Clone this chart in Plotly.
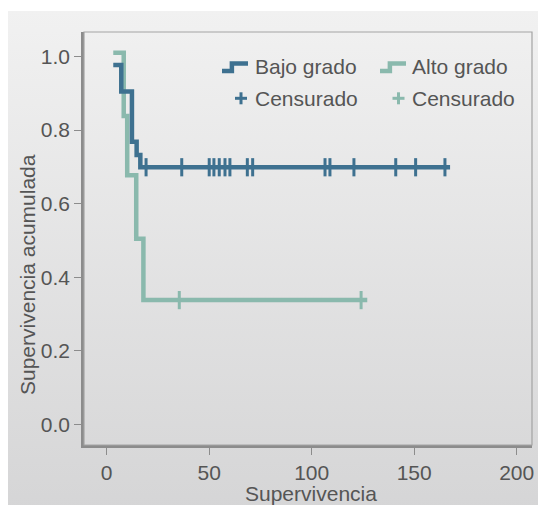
import base64
import plotly.graph_objects as go

# ---- data ----
bajo_t = [3.2, 7.1, 12.3, 14.6, 16.4, 167.5]
bajo_s = [0.977, 0.905, 0.768, 0.732, 0.699, 0.699]
bajo_cens_t = [19.2, 36.6, 50.0, 52.3, 54.9, 57.7, 60.1, 68.6, 71.2,
               106.5, 108.9, 120.6, 141.0, 150.7, 165.0]
bajo_cens_s = [0.699] * len(bajo_cens_t)

alto_t = [3.2, 8.3, 10.0, 14.4, 17.9, 127.1]
alto_s = [1.01, 0.838, 0.677, 0.505, 0.338, 0.338]
alto_cens_t = [35.4, 124.1]
alto_cens_s = [0.338] * len(alto_cens_t)

x_ticks = [0, 50, 100, 150, 200]
y_ticks = [0.0, 0.2, 0.4, 0.6, 0.8, 1.0]
y_tick_text = ["0.0", "0.2", "0.4", "0.6", "0.8", "1.0"]

BLUE = "#3e7190"
GREEN = "#8ab9ad"
TXT = "#555555"
FONT = "Liberation Sans, Arial, sans-serif"
FS = 21

OFF = 8  # page body margin
W, H = 538, 497
L, R, T, B = 76, 14, 24, 60
PW, PH = W - L - R, H - T - B


def px(x):  # screenshot pixel -> paper
    return (x - OFF - L) / PW


def py(y):
    return (H - B - (y - OFF)) / PH


fig = go.Figure()

fig.add_trace(go.Scatter(x=alto_t, y=alto_s, mode="lines", line=dict(color=GREEN, width=4.5, shape="hv"),
                         showlegend=False, hoverinfo="skip"))
fig.add_trace(go.Scatter(x=alto_cens_t, y=alto_cens_s, mode="markers",
                         marker=dict(symbol="line-ns", size=13, line=dict(color=GREEN, width=3)),
                         showlegend=False, hoverinfo="skip"))
fig.add_trace(go.Scatter(x=bajo_t, y=bajo_s, mode="lines", line=dict(color=BLUE, width=4.5, shape="hv"),
                         showlegend=False, hoverinfo="skip"))
fig.add_trace(go.Scatter(x=bajo_cens_t, y=bajo_cens_s, mode="markers",
                         marker=dict(symbol="line-ns", size=13, line=dict(color=BLUE, width=3)),
                         showlegend=False, hoverinfo="skip"))

# gradient background panel
svg = ('<svg xmlns="http://www.w3.org/2000/svg" width="100" height="100" preserveAspectRatio="none">'
       '<defs><linearGradient id="g" x1="0" y1="0" x2="0" y2="1">'
       '<stop offset="0" stop-color="#f1f1f1"/><stop offset="1" stop-color="#d5d5d6"/>'
       '</linearGradient></defs><rect width="100" height="100" fill="url(#g)"/></svg>')
src = "data:image/svg+xml;base64," + base64.b64encode(svg.encode()).decode()
fig.add_layout_image(dict(source=src, xref="paper", yref="paper",
                          x=px(5), y=py(11), sizex=px(W + OFF + 10) - px(5), sizey=py(11) - py(H + OFF + 10),
                          xanchor="left", yanchor="top", sizing="stretch", layer="below"))

shapes = []
shapes.append(dict(type="rect", xref="paper", yref="paper", x0=0, x1=1, y0=0, y1=1,
                   line=dict(color="#a3a3a3", width=1.2), layer="above"))


def step_icon(x0, x1, yl, yh, color):
    xm = x0 + (x1 - x0) * 0.38
    return dict(type="path", xref="paper", yref="paper",
                path=f"M {px(x0)},{py(yl)} L {px(xm)},{py(yl)} L {px(xm)},{py(yh)} L {px(x1)},{py(yh)}",
                line=dict(color=color, width=4.5))


def plus_icon(cx, cy, color, r=6):
    return [dict(type="line", xref="paper", yref="paper", x0=px(cx - r), x1=px(cx + r), y0=py(cy), y1=py(cy),
                 line=dict(color=color, width=3)),
            dict(type="line", xref="paper", yref="paper", x0=px(cx), x1=px(cx), y0=py(cy - r), y1=py(cy + r),
                 line=dict(color=color, width=3))]


shapes.append(step_icon(222, 248, 71, 63.5, BLUE))
shapes.append(step_icon(380, 406, 71, 63.5, GREEN))
shapes += plus_icon(241, 98.3, BLUE)
shapes += plus_icon(398.5, 98.3, GREEN)

annotations = []
for txt, x, y in [("Bajo grado", 253, 66.7), ("Alto grado", 410, 66.7),
                  ("Censurado", 253, 98.3), ("Censurado", 410, 98.3)]:
    annotations.append(dict(text=txt, xref="paper", yref="paper", x=px(x), y=py(y), xanchor="left",
                            yanchor="middle", showarrow=False, font=dict(size=FS, color=TXT, family=FONT)))
annotations.append(dict(text="Supervivencia", xref="paper", yref="paper", x=px(311), y=py(493),
                        xanchor="center", yanchor="middle", showarrow=False,
                        font=dict(size=FS, color=TXT, family=FONT)))
annotations.append(dict(text="Supervivencia acumulada", xref="paper", yref="paper", x=px(27), y=py(275),
                        xanchor="center", yanchor="middle", textangle=-90, showarrow=False,
                        font=dict(size=FS, color=TXT, family=FONT)))

fig.update_layout(
    width=W, height=H,
    margin=dict(l=L, r=R, t=T, b=B, pad=0),
    paper_bgcolor="white", plot_bgcolor="white",
    font=dict(family=FONT, size=FS, color=TXT),
    shapes=shapes, annotations=annotations,
    showlegend=False,
)
fig.update_xaxes(range=[-11.08, 207.47], tickvals=x_ticks, ticks="outside", ticklen=7, tickwidth=1,
                 tickcolor="#8c8c8c", showline=True, linewidth=2.5, linecolor="#8c8c8c",
                 showgrid=False, zeroline=False, tickfont=dict(size=FS, color=TXT))
fig.update_yaxes(range=[-0.0557, 1.0665], tickvals=y_ticks, ticktext=y_tick_text, ticks="outside",
                 ticklen=7, tickwidth=1, tickcolor="#8c8c8c", showline=True, linewidth=2.5,
                 linecolor="#8c8c8c", showgrid=False, zeroline=False, tickfont=dict(size=FS, color=TXT))

fig.write_html("out.html")
